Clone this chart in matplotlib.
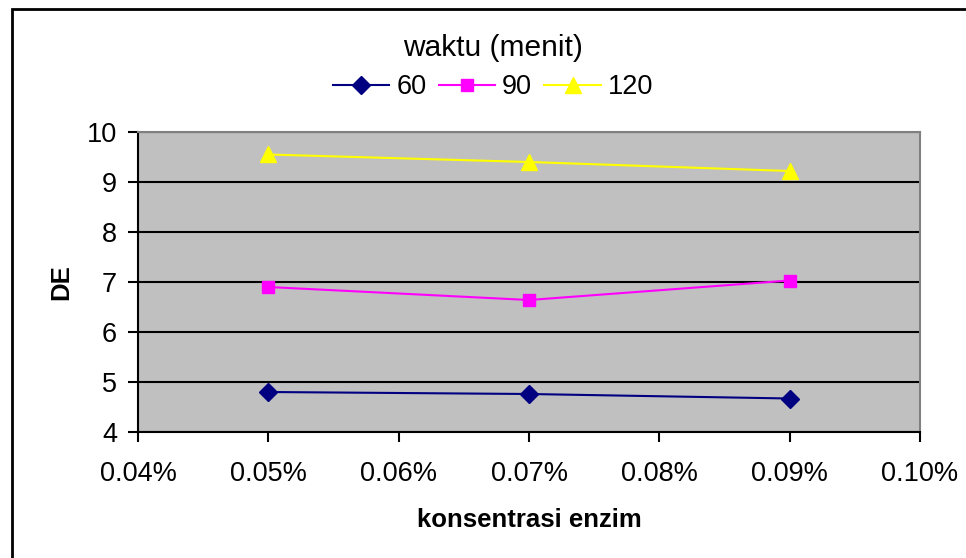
import matplotlib
matplotlib.use("Agg")
import matplotlib.pyplot as plt
from matplotlib.patches import Rectangle
from matplotlib.ticker import FuncFormatter

plt.rcParams['font.family'] = ['Liberation Sans', 'DejaVu Sans']

# konsentrasi enzim (%)
konsentrasi = [0.05, 0.07, 0.09]
# DE per waktu (menit)
de_60 = [4.80, 4.76, 4.67]
de_90 = [6.90, 6.64, 7.03]
de_120 = [9.55, 9.40, 9.22]
series_labels = ['60', '90', '120']
x_ticks = [0.04, 0.05, 0.06, 0.07, 0.08, 0.09, 0.10]
y_ticks = [4, 5, 6, 7, 8, 9, 10]

fig = plt.figure(figsize=(9.66, 5.58), dpi=100)
ax = fig.add_axes([138 / 966, 1 - 432 / 558, 782 / 966, 300 / 558])
ax.set_facecolor('#C0C0C0')

ax.plot(konsentrasi, de_60, color='#000080', marker='D', markersize=9, lw=1.5, label=series_labels[0])
ax.plot(konsentrasi, de_90, color='#FF00FF', marker='s', markersize=8.5, lw=1.5, label=series_labels[1])
ax.plot(konsentrasi, de_120, color='#FFFF00', marker='^', markersize=11, lw=1.5, label=series_labels[2])

ax.set_xlim(0.04, 0.10)
ax.set_ylim(4, 10)
ax.set_xticks(x_ticks)
ax.set_yticks(y_ticks)
ax.xaxis.set_major_formatter(FuncFormatter(lambda v, p: '{:.2f}%'.format(v)))
ax.grid(axis='y', color='black', lw=1.5)
ax.set_axisbelow(True)

ax.tick_params(axis='x', length=7, width=1.5, pad=14, labelsize=19.5)
ax.tick_params(axis='y', length=7, width=1.5, pad=8, labelsize=19.5)
for s in ['left', 'bottom']:
    ax.spines[s].set_color('black')
    ax.spines[s].set_linewidth(1.5)
for s in ['top', 'right']:
    ax.spines[s].set_color('#808080')
    ax.spines[s].set_linewidth(1.5)

ax.set_xlabel('konsentrasi enzim', fontsize=18.5, fontweight='bold', labelpad=15)
ax.set_ylabel('DE', fontsize=18.5, fontweight='bold', labelpad=10)

leg = fig.legend(loc='center', bbox_to_anchor=(493 / 966, 1 - 67 / 558), ncol=3,
                 title='waktu (menit)', frameon=False, fontsize=19.5, title_fontsize=21.5,
                 handlelength=2.1, columnspacing=0.45, handletextpad=0.25, borderaxespad=0,
                 labelspacing=0.45)

fig.patches.append(Rectangle((12 / 966, -0.05), 1.2, 1 - 9 / 558 + 0.05, transform=fig.transFigure,
                             fill=False, edgecolor='black', lw=2))

fig.savefig('out.png', dpi=100)
